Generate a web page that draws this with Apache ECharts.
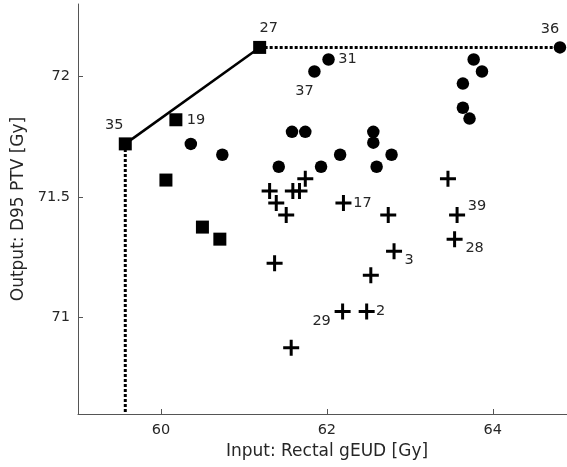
<!DOCTYPE html>
<html>
<head>
<meta charset="utf-8">
<script src="https://cdn.jsdelivr.net/npm/echarts@6/dist/echarts.min.js"></script>
<style>html,body{margin:0;padding:0;background:#fff}#c{width:567px;height:467px}</style>
</head>
<body>
<div id="c"></div>
<script>
// ---- data ----
var squareX = [59.57, 61.19, 60.18, 60.06, 60.50, 60.71];
var squareY = [71.72, 72.12, 71.82, 71.57, 71.375, 71.325];
var squareLabels = ['35', '27', '19', '', '', ''];

var circleX = [60.36, 60.74, 61.58, 61.74, 62.56, 62.56, 62.78, 62.60, 62.16, 61.93, 61.42, 62.02, 61.85, 64.81, 63.77, 63.87, 63.64, 63.64, 63.72];
var circleY = [71.72, 71.675, 71.77, 71.77, 71.77, 71.725, 71.675, 71.625, 71.675, 71.625, 71.625, 72.07, 72.02, 72.12, 72.07, 72.02, 71.97, 71.87, 71.825];
var circleLabels = ['', '', '', '', '', '', '', '', '', '', '', '31', '37', '36', '', '', '', '', ''];

var crossX = [61.31, 61.39, 61.51, 61.59, 61.67, 61.74, 62.20, 62.74, 61.37, 62.81, 62.53, 62.19, 62.48, 61.57, 63.46, 63.57, 63.54];
var crossY = [71.525, 71.475, 71.425, 71.525, 71.525, 71.575, 71.475, 71.425, 71.225, 71.275, 71.175, 71.025, 71.025, 70.875, 71.575, 71.425, 71.325];
var crossLabels = ['', '', '', '', '', '', '17', '', '', '3', '', '29', '2', '', '', '39', '28'];

var xTicks = [60, 62, 64];
var yTicks = [71, 71.5, 72];
var xRange = [59, 64.895];
var yRange = [70.6, 72.3];

// ---- label placement (offsets from marker centre, px) ----
var labelOffset = {
  '35': [-11, -19], '27': [9, -19], '19': [20, 0], '31': [19, 0], '37': [-10, 20],
  '36': [-10, -18], '17': [19, 0], '39': [20, -9], '28': [20, 9], '3': [15, 9],
  '29': [-21, 10], '2': [14, 0]
};

var TXT = '#262626';
var FONT = 'DejaVu Sans';

function pts(xs, ys, labels) {
  return xs.map(function (x, i) {
    var d = { value: [x, ys[i]], name: labels[i] };
    if (labels[i]) {
      d.label = {
        show: true, formatter: labels[i], position: 'inside',
        offset: labelOffset[labels[i]], color: TXT, fontSize: 14.5, fontFamily: FONT,
        textBorderWidth: 0, align: 'center', verticalAlign: 'middle'
      };
    }
    return d;
  });
}

// connection lines built from the point arrays
var p35 = [squareX[0], squareY[0]];
var p27 = [squareX[1], squareY[1]];
var p36 = [circleX[13], circleY[13]];

var plusPath = 'path://M-1.5,-8H1.5V-1.5H8V1.5H1.5V8H-1.5V1.5H-8V-1.5H-1.5Z';
var mark = { color: '#000', opacity: 1 };

var chart = echarts.init(document.getElementById('c'), null, { renderer: 'canvas' });
chart.setOption({
  animation: false,
  backgroundColor: '#fff',
  textStyle: { fontFamily: FONT },
  grid: { left: 78, top: 4, right: 0, height: 410, containLabel: false },
  xAxis: {
    type: 'value', min: xRange[0], max: xRange[1],
    name: 'Input: Rectal gEUD [Gy]', nameLocation: 'middle', nameGap: 27,
    nameTextStyle: { color: TXT, fontSize: 17, fontFamily: FONT, padding: [0, 0, 0, 9] },
    axisLine: { show: true, lineStyle: { color: '#555', width: 1 } },
    axisTick: { show: true, inside: true, length: 5, customValues: xTicks, lineStyle: { color: '#555' } },
    axisLabel: { customValues: xTicks, color: TXT, fontSize: 14.5, fontFamily: FONT, margin: 9 },
    splitLine: { show: false }
  },
  yAxis: {
    type: 'value', min: yRange[0], max: yRange[1],
    name: 'Output: D95 PTV [Gy]', nameLocation: 'middle', nameGap: 47, nameRotate: 90,
    nameTextStyle: { color: TXT, fontSize: 17, fontFamily: FONT },
    axisLine: { show: true, lineStyle: { color: '#555', width: 1 } },
    axisTick: { show: true, inside: true, length: 5, customValues: yTicks, lineStyle: { color: '#555' } },
    axisLabel: { customValues: yTicks, color: TXT, fontSize: 14.5, fontFamily: FONT, margin: 8 },
    splitLine: { show: false }
  },
  series: [
    {
      type: 'line', data: [p35, p27], symbol: 'none', z: 1,
      lineStyle: { color: '#000', width: 2.5, type: 'solid', opacity: 1 }
    },
    {
      type: 'line', data: [p35, [p35[0], yRange[0]]], symbol: 'none', z: 1,
      lineStyle: { color: '#000', width: 3, type: [3, 2], opacity: 1 }
    },
    {
      type: 'line', data: [p27, p36], symbol: 'none', z: 1,
      lineStyle: { color: '#000', width: 3, type: [3, 2], opacity: 1 }
    },
    {
      type: 'scatter', symbol: 'rect', symbolSize: 13, z: 3,
      itemStyle: mark, data: pts(squareX, squareY, squareLabels)
    },
    {
      type: 'scatter', symbol: 'circle', symbolSize: 12.5, z: 3,
      itemStyle: mark, data: pts(circleX, circleY, circleLabels)
    },
    {
      type: 'scatter', symbol: plusPath, symbolSize: 16, z: 3,
      itemStyle: mark, data: pts(crossX, crossY, crossLabels)
    }
  ]
});
</script>
</body>
</html>
